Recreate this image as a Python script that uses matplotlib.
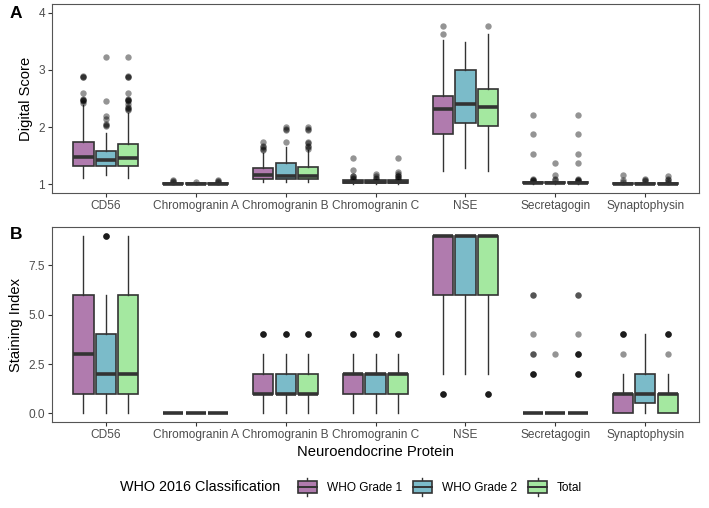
import matplotlib
matplotlib.use("Agg")
import matplotlib.pyplot as plt
from matplotlib.legend_handler import HandlerBase
from matplotlib.patches import Rectangle
from matplotlib.lines import Line2D
import numpy as np

plt.rcParams['font.family'] = ['Liberation Sans', 'DejaVu Sans']

proteins = ["CD56", "Chromogranin A", "Chromogranin B", "Chromogranin C",
            "NSE", "Secretagogin", "Synaptophysin"]
groups = ["WHO Grade 1", "WHO Grade 2", "Total"]
colors = ["#B07BAE", "#7BBBC9", "#A4E8A0"]

# panel A: digital score, rows = protein, cols = group
a_q1 = [[1.33, 1.32, 1.32], [1.00, 1.00, 1.00], [1.09, 1.09, 1.09], [1.03, 1.03, 1.03],
        [1.885, 2.08, 2.02], [1.02, 1.02, 1.02], [1.00, 1.00, 1.00]]
a_med = [[1.48, 1.42, 1.46], [1.01, 1.01, 1.01], [1.17, 1.15, 1.15], [1.05, 1.05, 1.05],
         [2.32, 2.41, 2.35], [1.03, 1.03, 1.03], [1.01, 1.01, 1.01]]
a_q3 = [[1.745, 1.58, 1.71], [1.03, 1.03, 1.03], [1.29, 1.37, 1.30], [1.07, 1.07, 1.07],
        [2.55, 3.00, 2.675], [1.04, 1.04, 1.04], [1.03, 1.03, 1.03]]
a_lo = [[1.12, 1.17, 1.12], [1.00, 1.00, 1.00], [1.04, 1.05, 1.04], [1.00, 1.00, 1.00],
        [1.23, 1.29, 1.23], [1.00, 1.00, 1.00], [1.00, 1.00, 1.00]]
a_hi = [[2.38, 1.90, 2.25], [1.04, 1.04, 1.04], [1.55, 1.65, 1.60], [1.10, 1.10, 1.10],
        [3.53, 3.48, 3.62], [1.06, 1.06, 1.06], [1.04, 1.04, 1.04]]
a_out = [
    [[2.42, 2.45, 2.47, 2.48, 2.5, 2.6, 2.87, 2.88, 2.9],
     [2.02, 2.04, 2.05, 2.15, 2.2, 2.45, 3.23],
     [2.3, 2.32, 2.33, 2.35, 2.4, 2.45, 2.47, 2.48, 2.5, 2.6, 2.87, 2.88, 2.9, 3.23]],
    [[1.05, 1.06, 1.07], [1.05], [1.05, 1.06, 1.07]],
    [[1.6, 1.62, 1.65, 1.67, 1.75], [1.75, 1.95, 1.97, 2.0],
     [1.62, 1.65, 1.67, 1.72, 1.75, 1.95, 1.97, 2.0]],
    [[1.1, 1.12, 1.15, 1.15, 1.25, 1.47], [1.1, 1.12, 1.15, 1.18],
     [1.1, 1.12, 1.15, 1.15, 1.18, 1.22, 1.47]],
    [[3.63, 3.76], [], [3.76]],
    [[1.06, 1.07, 1.08, 1.1, 1.53, 1.885, 2.22], [1.07, 1.1, 1.16, 1.37],
     [1.06, 1.07, 1.08, 1.1, 1.37, 1.53, 1.885, 2.22]],
    [[1.05, 1.07, 1.17], [1.06, 1.08, 1.1], [1.05, 1.07, 1.1, 1.15]],
]

# panel B: staining index
b_q1 = [[1, 1, 1], [0, 0, 0], [1, 1, 1], [1, 1, 1], [6, 6, 6], [0, 0, 0], [0, 0.5, 0]]
b_med = [[3, 2, 2], [0, 0, 0], [1, 1, 1], [2, 2, 2], [9, 9, 9], [0, 0, 0], [1, 1, 1]]
b_q3 = [[6, 4, 6], [0, 0, 0], [2, 2, 2], [2, 2, 2], [9, 9, 9], [0, 0, 0], [1, 2, 1]]
b_lo = [[0, 0, 0], [0, 0, 0], [0, 0, 0], [0, 0, 0], [2, 2, 2], [0, 0, 0], [0, 0, 0]]
b_hi = [[9, 6, 9], [0, 0, 0], [3, 3, 3], [3, 3, 3], [9, 9, 9], [0, 0, 0], [2, 4, 2]]
b_out = [
    [[], [9, 9, 9, 9], []],
    [[], [], []],
    [[4, 4, 4, 4], [4, 4, 4, 4], [4, 4, 4, 4]],
    [[4, 4, 4, 4], [4, 4, 4, 4], [4, 4, 4, 4]],
    [[1, 1, 1, 1], [], [1, 1, 1, 1]],
    [[2, 2, 2, 2, 3, 3, 4, 6, 6], [3], [2, 2, 2, 2, 3, 3, 3, 3, 4, 6, 6]],
    [[3, 4, 4, 4, 4], [], [3, 4, 4, 4, 4]],
]

dark = "#333333"
offsets = [-0.25, 0.0, 0.25]


def draw_panel(ax, q1, med, q3, lo, hi, out):
    x = np.arange(1, len(proteins) + 1)
    for g in range(len(groups)):
        stats = []
        for i in range(len(proteins)):
            stats.append(dict(q1=q1[i][g], med=med[i][g], q3=q3[i][g],
                              whislo=lo[i][g], whishi=hi[i][g], fliers=out[i][g]))
        ax.bxp(stats, positions=x + offsets[g], widths=0.225, patch_artist=True,
               showcaps=False, manage_ticks=False,
               boxprops=dict(facecolor=colors[g], edgecolor=dark, linewidth=1.2),
               medianprops=dict(color=dark, linewidth=2.6, solid_capstyle='butt'),
               whiskerprops=dict(color=dark, linewidth=1.0),
               flierprops=dict(marker='o', markerfacecolor='black', markeredgecolor='none',
                               markersize=4.6, alpha=0.42))
    ax.set_xlim(0.4, len(proteins) + 0.6)
    ax.set_xticks(x)
    ax.set_xticklabels(proteins)
    for s in ax.spines.values():
        s.set_color("#555555")
        s.set_linewidth(0.8)
    ax.tick_params(labelsize=8.6, length=3, width=0.8, pad=2,
                   colors="#333333", labelcolor="#4D4D4D")


fig = plt.figure(figsize=(7.09, 5.08), dpi=100)
axA = fig.add_axes([0.0733, 0.620, 0.9127, 0.372])
axB = fig.add_axes([0.0733, 0.169, 0.9127, 0.384])

draw_panel(axA, a_q1, a_med, a_q3, a_lo, a_hi, a_out)
axA.set_ylim(0.85, 4.15)
axA.set_yticks([1, 2, 3, 4])
axA.set_ylabel("Digital Score", fontsize=10.6, color="black", labelpad=4)

draw_panel(axB, b_q1, b_med, b_q3, b_lo, b_hi, b_out)
axB.set_ylim(-0.45, 9.45)
axB.set_yticks([0, 2.5, 5, 7.5])
axB.set_yticklabels(["0.0", "2.5", "5.0", "7.5"])
axB.set_ylabel("Staining Index", fontsize=10.6, color="black", labelpad=4)
axB.set_xlabel("Neuroendocrine Protein", fontsize=10.6, color="black", labelpad=3)

fig.text(10 / 709, 1 - 13 / 508, "A", fontsize=12.5, fontweight='bold', va='center')
fig.text(10 / 709, 1 - 234 / 508, "B", fontsize=12.5, fontweight='bold', va='center')


class BoxHandler(HandlerBase):
    def create_artists(self, legend, orig_handle, xdescent, ydescent, width, height,
                       fontsize, trans):
        x0, y0 = -xdescent, -ydescent
        bh = height * 0.78
        by = y0 + (height - bh) / 2
        rect = Rectangle((x0, by), width, bh, facecolor=orig_handle.get_facecolor(),
                         edgecolor=dark, linewidth=1.2, transform=trans)
        cx = x0 + width / 2
        med = Line2D([x0, x0 + width], [y0 + height / 2] * 2, color=dark, lw=1.4,
                     transform=trans)
        w1 = Line2D([cx, cx], [y0 - height * 0.1, by], color=dark, lw=1.0, transform=trans)
        w2 = Line2D([cx, cx], [by + bh, y0 + height * 1.1], color=dark, lw=1.0,
                    transform=trans)
        return [w1, w2, rect, med]


handles = [Rectangle((0, 0), 1, 1, facecolor=c) for c in colors]
fig.text(120 / 709, 1 - 487 / 508, "WHO 2016 Classification", fontsize=10.4,
         va='center', ha='left')
fig.legend(handles, groups, loc='center left', bbox_to_anchor=(298 / 709, 1 - 487 / 508),
           ncol=3, frameon=False, fontsize=8.6, handler_map={Rectangle: BoxHandler()},
           handlelength=1.55, handleheight=1.5, handletextpad=0.85, columnspacing=0.95,
           borderpad=0, borderaxespad=0)

fig.savefig("out.png", dpi=100)
